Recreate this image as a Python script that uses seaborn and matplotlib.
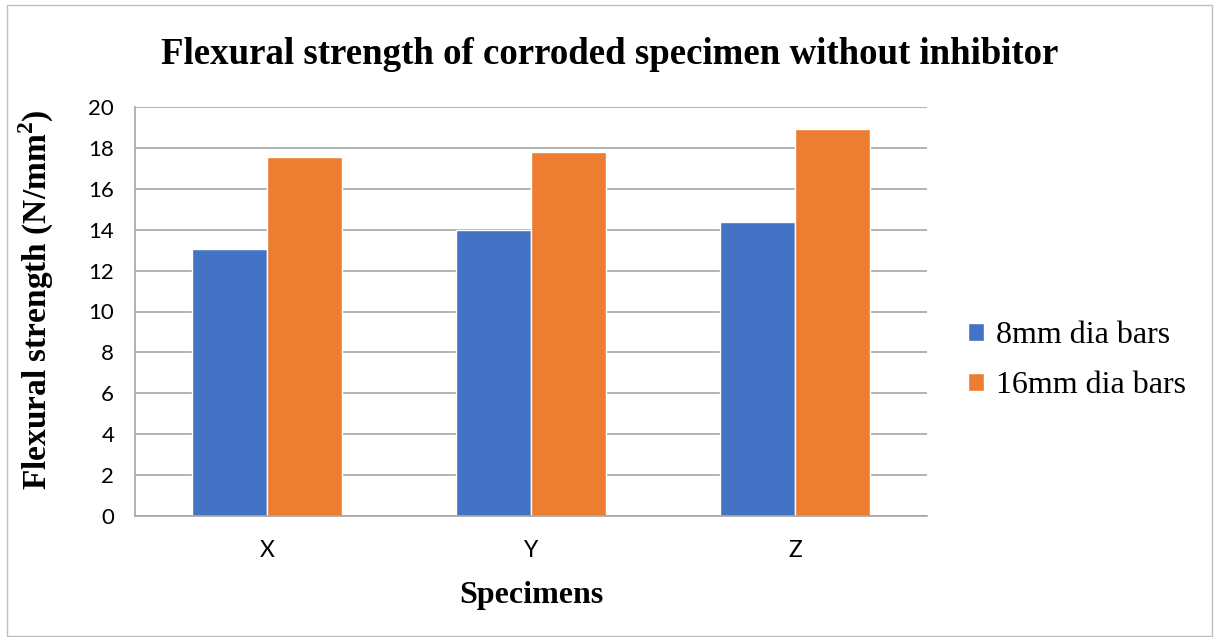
import seaborn as sns
import matplotlib.pyplot as plt
import pandas as pd
from matplotlib.patches import Rectangle

# data
specimens = ['X', 'Y', 'Z']
dia_8mm = [13.05, 13.97, 14.4]
dia_16mm = [17.55, 17.8, 18.9]
series = ['8mm dia bars', '16mm dia bars']
colors = ['#4472C4', '#ED7D31']

df = pd.DataFrame({
    'Specimens': specimens * 2,
    'value': dia_8mm + dia_16mm,
    'series': [series[0]] * 3 + [series[1]] * 3,
})

sns.set_style('white')
plt.rcParams['font.family'] = ['Liberation Serif', 'DejaVu Sans']
plt.rcParams['text.color'] = 'black'
plt.rcParams['axes.labelcolor'] = 'black'

fig = plt.figure(figsize=(12.19, 6.37), dpi=100)
ax = fig.add_axes([135 / 1219, 1 - 516 / 637, 792 / 1219, 409 / 637])

sns.barplot(data=df, x='Specimens', y='value', hue='series', palette=colors,
            width=0.57, ax=ax, saturation=1, legend=True)

ax.set_ylim(0, 20)
ax.set_xlim(-0.5, 2.5)
ax.set_yticks(range(0, 21, 2))
ax.yaxis.grid(True, color='#A6A6A6', linewidth=1.2)
ax.set_axisbelow(True)
for s in ['top', 'right']:
    ax.spines[s].set_visible(False)
for s in ['left', 'bottom']:
    ax.spines[s].set_color('#A6A6A6')
    ax.spines[s].set_linewidth(1.2)

tick_font = ['Lato', 'DejaVu Sans']
ax.tick_params(axis='y', length=6, color='#A6A6A6', width=1.2, labelsize=16,
               pad=9, labelcolor='black')
for t in ax.get_yticklabels():
    t.set_family(tick_font)
ax.set_xticks([0, 1, 2])
ax.set_xticklabels(specimens, family=tick_font, fontsize=16.5, color='black')
ax.tick_params(axis='x', which='major', length=0, pad=17)
ax.set_xticks([-0.5, 0.5, 1.5, 2.5], minor=True)
ax.tick_params(axis='x', which='minor', length=8, color='#A6A6A6', width=1.2)

ax.set_ylabel('Flexural strength (N/mm$^\\mathregular{2}$)', fontsize=24, fontweight='bold')
ax.yaxis.set_label_coords(-0.1, 0.53)
ax.set_xlabel('Specimens', fontsize=23, fontweight='bold')
ax.xaxis.set_label_coords(0.5, -0.16)
fig.text(0.5, 1 - 55 / 637, 'Flexural strength of corroded specimen without inhibitor',
         ha='center', va='center', fontsize=26.6, fontweight='bold')

ax.legend(loc='center left', bbox_to_anchor=(1.016, 0.38), frameon=False,
          fontsize=23, handlelength=0.5, handleheight=0.5, handletextpad=0.35,
          labelspacing=0.65)

fig.patches.append(Rectangle((7 / 1219, 0.002), 1 - 14 / 1219, 0.99,
                             transform=fig.transFigure, fill=False,
                             edgecolor='#BFBFBF', linewidth=1))

fig.savefig('out.png', dpi=100)
